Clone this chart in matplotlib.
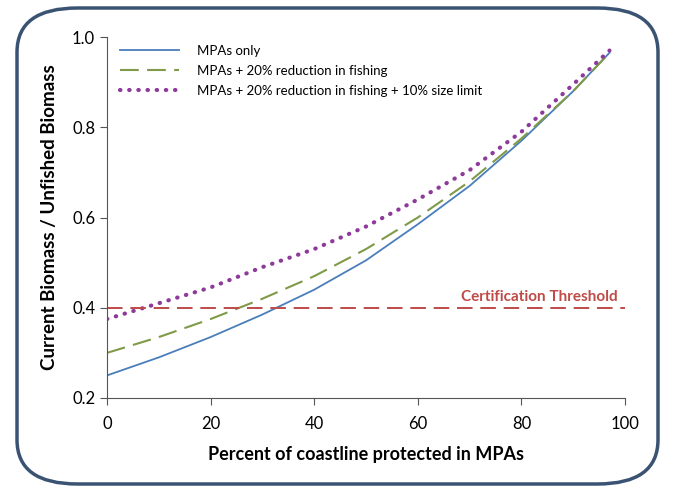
import numpy as np
import matplotlib
matplotlib.use('Agg')
import matplotlib.pyplot as plt
from matplotlib.patches import FancyBboxPatch

plt.rcParams['font.family'] = ['Lato', 'DejaVu Sans']

pct = [0, 10, 20, 30, 40, 50, 60, 70, 80, 90, 97]
mpa_only = [0.25, 0.29, 0.335, 0.385, 0.44, 0.505, 0.585, 0.67, 0.77, 0.88, 0.965]
mpa_fish = [0.30, 0.335, 0.375, 0.42, 0.47, 0.53, 0.60, 0.68, 0.775, 0.88, 0.965]
mpa_size = [0.375, 0.41, 0.445, 0.49, 0.53, 0.58, 0.64, 0.705, 0.79, 0.895, 0.97]
threshold = 0.4

fig = plt.figure(figsize=(6.73, 4.92), dpi=100)
ax = fig.add_axes([107/673, 1 - 398/492, (625-107)/673, (398-37)/492])

border = FancyBboxPatch((17/673, 8/492), (641)/673, (476)/492,
                        boxstyle="round,pad=0,rounding_size=0.09",
                        transform=fig.transFigure, fill=False,
                        edgecolor='#3b5373', linewidth=2.5, zorder=-1)
fig.patches.append(border)

ax.plot(pct, mpa_only, color='#4a7ebb', lw=1.3, label='MPAs only')
ax.plot(pct, mpa_fish, color='#7f9a48', lw=1.5, dashes=(9, 4),
        label='MPAs + 20% reduction in fishing')
ax.plot(pct, mpa_size, color='#8e3a9b', lw=3, linestyle=(0, (0.1, 2.1)),
        dash_capstyle='round',
        label='MPAs + 20% reduction in fishing + 10% size limit')
ax.axhline(threshold, color='#be4b48', lw=1.4, dashes=(8, 4))
ax.text(98.5, threshold + 0.008, 'Certification Threshold', color='#be4b48',
        fontsize=11, fontweight='bold', ha='right', va='bottom')

ax.set_xlim(0, 100)
ax.set_ylim(0.2, 1.0)
ax.set_xticks([0, 20, 40, 60, 80, 100])
ax.set_yticks([0.2, 0.4, 0.6, 0.8, 1.0])
ax.set_yticklabels(['0.2', '0.4', '0.6', '0.8', '1.0'])
ax.tick_params(labelsize=12, length=5, direction='out', color='#555555')
ax.tick_params(axis='x', pad=8)
for s in ['top', 'right']:
    ax.spines[s].set_visible(False)
for s in ['left', 'bottom']:
    ax.spines[s].set_color('#555555')

ax.set_xlabel('Percent of coastline protected in MPAs', fontsize=13,
              fontweight='bold', labelpad=10)
ax.set_ylabel('Current Biomass / Unfished Biomass', fontsize=13.5,
              fontweight='bold', labelpad=10)

ax.legend(loc='upper left', frameon=False, fontsize=9.5, handlelength=4.5,
          handletextpad=1.3, bbox_to_anchor=(0.01, 1.0), borderaxespad=0.2,
          labelspacing=0.6)

fig.savefig('out.png', dpi=100)
